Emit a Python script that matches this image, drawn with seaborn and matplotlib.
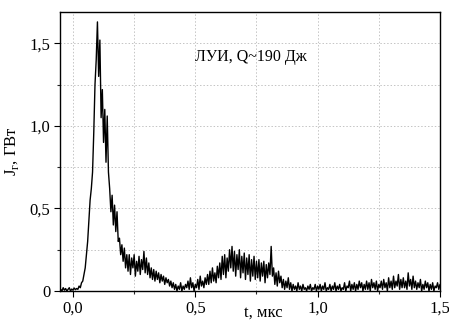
import numpy as np
import pandas as pd
import matplotlib
matplotlib.use("Agg")
import matplotlib.pyplot as plt
import seaborn as sns

# ---- data ----
sample_step = 0.005  # mks
seg_start = [-0.050, 0.020, 0.095, 0.225, 0.405, 0.555, 0.855]

seg_pre = [0.01, 0.0, 0.02, 0.005, 0.015, 0.0, 0.01, 0.02, 0.0, 0.012, 0.005, 0.018, 0.008, 0.015]
seg_rise = [0.01, 0.03, 0.02, 0.05, 0.06, 0.10, 0.14, 0.22, 0.30, 0.42, 0.55, 0.62, 0.72, 0.96, 1.25]
seg_peak = [1.40, 1.63, 1.30, 1.52, 1.05, 1.22, 0.90, 1.10, 0.78, 1.06, 0.72, 0.62, 0.48,
            0.58, 0.40, 0.52, 0.36, 0.48, 0.30, 0.32, 0.22, 0.28, 0.18, 0.26, 0.14, 0.22]
seg_decay = [0.12, 0.22, 0.10, 0.20, 0.14, 0.22, 0.09, 0.18, 0.12, 0.21, 0.10, 0.19,
             0.13, 0.24, 0.11, 0.20, 0.10, 0.17, 0.08, 0.14, 0.07, 0.13, 0.06, 0.12,
             0.07, 0.11, 0.05, 0.10, 0.06, 0.09, 0.04, 0.08, 0.05, 0.07, 0.03, 0.06]
seg_trough = [0.02, 0.05, 0.01, 0.04, 0.0, 0.03, 0.01, 0.05, 0.0, 0.03,
              0.01, 0.04, 0.02, 0.06, 0.01, 0.08, 0.02, 0.05, 0.0, 0.04,
              0.02, 0.07, 0.01, 0.09, 0.03, 0.06, 0.02, 0.08, 0.04, 0.10]
seg_hump = [0.04, 0.12, 0.05, 0.14, 0.06, 0.11, 0.05, 0.15, 0.08, 0.17,
            0.07, 0.21, 0.10, 0.22, 0.08, 0.20, 0.12, 0.25, 0.14, 0.27,
            0.12, 0.24, 0.09, 0.22, 0.13, 0.25, 0.08, 0.21, 0.11, 0.23,
            0.07, 0.20, 0.10, 0.22, 0.06, 0.19, 0.09, 0.21, 0.07, 0.18,
            0.08, 0.19, 0.06, 0.17, 0.09, 0.18, 0.05, 0.16, 0.08, 0.17,
            0.10, 0.27, 0.09, 0.14, 0.04, 0.11, 0.03, 0.12, 0.05, 0.09]
seg_tail = [0.02, 0.07, 0.01, 0.06, 0.02, 0.08, 0.01, 0.05, 0.0, 0.04,
            0.01, 0.03, 0.0, 0.05, 0.01, 0.03, 0.0, 0.04, 0.01, 0.02,
            0.0, 0.03, 0.01, 0.04, 0.0, 0.02, 0.01, 0.04, 0.0, 0.03,
            0.01, 0.04, 0.0, 0.03, 0.01, 0.05, 0.0, 0.02, 0.01, 0.04,
            0.0, 0.03, 0.01, 0.05, 0.0, 0.03, 0.01, 0.04, 0.0, 0.02,
            0.01, 0.05, 0.0, 0.03, 0.02, 0.06, 0.0, 0.04, 0.01, 0.05,
            0.0, 0.04, 0.01, 0.06, 0.02, 0.05, 0.0, 0.04, 0.01, 0.06,
            0.01, 0.05, 0.0, 0.07, 0.02, 0.05, 0.01, 0.06, 0.0, 0.04,
            0.02, 0.06, 0.01, 0.07, 0.02, 0.05, 0.0, 0.08, 0.02, 0.06,
            0.01, 0.09, 0.02, 0.06, 0.03, 0.10, 0.01, 0.07, 0.02, 0.08,
            0.02, 0.06, 0.01, 0.11, 0.03, 0.07, 0.01, 0.09, 0.02, 0.06,
            0.01, 0.05, 0.02, 0.07, 0.0, 0.04, 0.01, 0.06, 0.02, 0.05,
            0.0, 0.04, 0.01, 0.05, 0.0, 0.03, 0.02, 0.05, 0.01, 0.04]

segments = [seg_pre, seg_rise, seg_peak, seg_decay, seg_trough, seg_hump, seg_tail]

x_ticks = [0.0, 0.5, 1.0, 1.5]
x_ticklabels = ["0,0", "0,5", "1,0", "1,5"]
y_ticks = [0.0, 0.5, 1.0, 1.5]
y_ticklabels = ["0", "0,5", "1,0", "1,5"]
annotation = "ЛУИ, Q~190 Дж"
x_label = "t, мкс"
y_label = r"J$_\mathregular{г}$, ГВт"

# ---- assemble ----
t_parts, j_parts = [], []
for s0, vals in zip(seg_start, segments):
    n = len(vals)
    t_parts.append(s0 + sample_step * np.arange(n))
    j_parts.append(np.asarray(vals, dtype=float))
df = pd.DataFrame({"t": np.concatenate(t_parts), "J": np.concatenate(j_parts)})

sns.set_theme(style="white")
plt.rcParams["font.family"] = ["Liberation Serif", "DejaVu Serif"]
plt.rcParams["mathtext.fontset"] = "custom"
plt.rcParams["mathtext.rm"] = "Liberation Serif"

fig = plt.figure(figsize=(4.49, 3.22), dpi=100)
ax = fig.add_axes([60 / 449, 1 - 291 / 322, 380 / 449, 279 / 322])

sns.lineplot(data=df, x="t", y="J", ax=ax, color="black", linewidth=1.0,
             estimator=None, sort=False)

ax.set_xlim(-0.053, 1.5)
ax.set_ylim(0, 1.69)
ax.set_xticks(x_ticks)
ax.set_xticklabels(x_ticklabels)
ax.set_yticks(y_ticks)
ax.set_yticklabels(y_ticklabels)
ax.set_xticks([0.25, 0.75, 1.25], minor=True)
ax.set_yticks([0.25, 0.75, 1.25], minor=True)

ax.grid(True, which="both", color="#c4c4c4", linestyle=(0, (1.5, 2)), linewidth=0.7)
ax.set_axisbelow(True)

ax.tick_params(axis="both", which="major", direction="out", length=4, width=0.8,
               labelsize=12, colors="black", bottom=True, left=True, pad=3)
ax.tick_params(axis="both", which="minor", direction="out", length=2, width=0.8,
               bottom=True, left=True)
for sp in ax.spines.values():
    sp.set_color("black")
    sp.set_linewidth(1.0)

ax.set_xlabel(x_label, fontsize=12, color="black")
ax.set_ylabel(y_label, fontsize=12, color="black", labelpad=6)
ax.xaxis.set_label_coords(0.536, -0.05)

ax.text(0.5, 1.42, annotation, fontsize=11.5, color="black", ha="left", va="center")

fig.savefig("out.png", dpi=100)
